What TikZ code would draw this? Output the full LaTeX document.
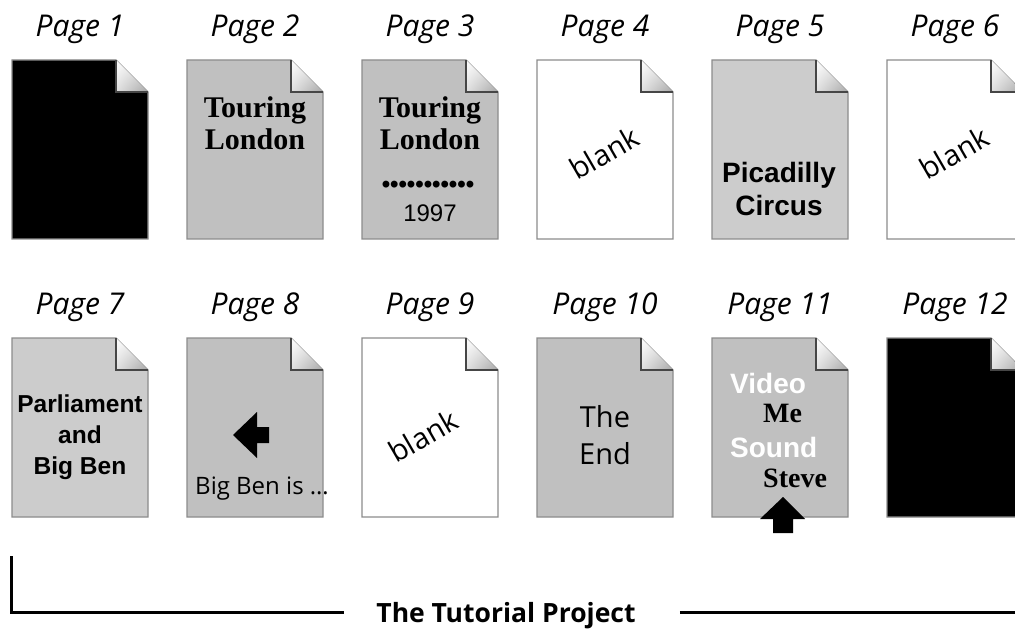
\documentclass[tikz,border=0pt]{standalone}
\usepackage{fontspec}
\newfontfamily\humfont{Open Sans}
\newfontfamily\arialfont{Liberation Sans}
\newfontfamily\timesfont{Liberation Serif}
\usepackage{xcolor}
\definecolor{sheetgray}{RGB}{192,192,192}
\definecolor{sheetlight}{RGB}{204,204,204}
\definecolor{rimgray}{RGB}{140,140,140}
\definecolor{folddark}{RGB}{70,70,70}
\usepackage{tikz}
\usetikzlibrary{positioning,calc,shadings}
\newlength{\foldsz}\setlength{\foldsz}{32pt}
%% sheet with dog-ear: #1 node name, #2 fill colour
\newcommand{\pagesheet}[2]{%
  \filldraw[fill=#2, draw=rimgray, line width=1.2pt]
    (#1.north west) -- ([xshift=-\foldsz]#1.north east)
    -- ([yshift=-\foldsz]#1.north east) -- (#1.south east)
    -- (#1.south west) -- cycle;
  \shade[upper left=white, upper right=gray!20, lower left=gray!25, lower right=gray!70]
    ([xshift=-\foldsz]#1.north east) -- ([xshift=-\foldsz,yshift=-\foldsz]#1.north east)
    -- ([yshift=-\foldsz]#1.north east) -- cycle;
  \draw[folddark, line width=1.2pt]
    ([xshift=-\foldsz]#1.north east) -- ([xshift=-\foldsz,yshift=-\foldsz]#1.north east)
    -- ([yshift=-\foldsz]#1.north east);
}
\tikzset{
  sheet/.style={minimum width=136pt, minimum height=179pt, inner sep=0pt, outer sep=0pt},
  pglabel/.style={font=\humfont\itshape\fontsize{30}{34}\selectfont, inner sep=0pt},
  serifhead/.style={font=\timesfont\bfseries\fontsize{30}{32}\selectfont, align=center, inner sep=0pt},
  arialhead/.style={font=\arialfont\bfseries\fontsize{28}{33}\selectfont, align=center, inner sep=0pt},
  blanktxt/.style={font=\humfont\fontsize{29}{32}\selectfont, rotate=30, inner sep=0pt},
  bodytxt/.style={font=\humfont\fontsize{29}{37}\selectfont, align=center, inner sep=0pt},
  credit/.style={font=\timesfont\bfseries\fontsize{28}{32}\selectfont, inner sep=0pt, anchor=base west},
  media/.style={font=\arialfont\bfseries\fontsize{28}{32}\selectfont, white, inner sep=0pt, anchor=base west},
  bracket/.style={line width=3pt},
}
\begin{document}
\begin{tikzpicture}[x=1pt, y=-1pt]
  \useasboundingbox (0,0) rectangle (1015,631);
  %% the twelve sheets
  \foreach \n/\x/\y/\c in {1/80/149.5/black, 2/255/149.5/sheetgray, 3/430/149.5/sheetgray,
      4/605/149.5/white, 5/780/149.5/sheetlight, 6/955/149.5/white,
      7/80/427.5/sheetlight, 8/255/427.5/sheetgray, 9/430/427.5/white,
      10/605/427.5/sheetgray, 11/780/427.5/sheetgray, 12/955/427.5/black}{
    \node[sheet] (p\n) at (\x,\y) {};
    \pagesheet{p\n}{\c}
    \node[pglabel, above=16pt of p\n] (l\n) {Page \n};
  }
  %% row one
  \node[serifhead, anchor=north] (title2) at (255,96) {Touring\\London};
  \node[serifhead, anchor=north] (title3) at (430,96) {Touring\\London};
  \node[font=\arialfont\bfseries\fontsize{24}{28}\selectfont, inner sep=0pt] (dots3) at (428,187)
    {\textbullet\textbullet\textbullet\textbullet\textbullet\textbullet\textbullet\textbullet\textbullet\textbullet\textbullet};
  \node[font=\arialfont\fontsize{24}{28}\selectfont, inner sep=0pt] (year3) at (430,213) {1997};
  \node[blanktxt] (blank4) at (604,153) {blank};
  \node[arialhead, anchor=north] (circus5) at (779,162) {Picadilly\\Circus};
  \node[blanktxt] (blank6) at (954,153) {blank};
  %% row two
  \node[arialhead, anchor=north, font=\arialfont\bfseries\fontsize{24.5}{31}\selectfont]
    (ben7) at (80,395) {Parliament\\and\\Big Ben};
  \fill (233,435) -- (257,412) -- (257,427) -- (269,427) -- (269,443)
    -- (257,443) -- (257,458) -- cycle;
  \node[font=\humfont\fontsize{24}{28}\selectfont, inner sep=0pt, anchor=base west]
    (ben8) at (195,494) {Big Ben is \dots};
  \node[blanktxt] (blank9) at (423,436) {blank};
  \node[bodytxt, anchor=north] (end10) at (605,405) {The\\End};
  \node[media] (video11) at (730,393) {Video};
  \node[credit] (me11) at (763,422) {Me};
  \node[media] (sound11) at (730,457) {Sound};
  \node[credit] (steve11) at (763,487) {Steve};
  \fill (783,497) -- (805,519) -- (793,519) -- (793,533) -- (773,533)
    -- (773,519) -- (760,519) -- cycle;
  %% project bracket
  \node[font=\humfont\bfseries\fontsize{26.5}{30}\selectfont, inner sep=0pt] (proj) at (506,616)
    {The Tutorial Project};
  \coordinate (bktop) at (11,556);
  \coordinate (bkleft) at ([xshift=-32pt,yshift=3.5pt]proj.west);
  \coordinate (bkright) at ([xshift=44pt,yshift=3.5pt]proj.east);
  \coordinate (bkend) at (1015,612.5);
  \draw[bracket] (bktop) |- (bkleft);
  \draw[bracket] (bkright) -- (bkend);
\end{tikzpicture}
\end{document}
